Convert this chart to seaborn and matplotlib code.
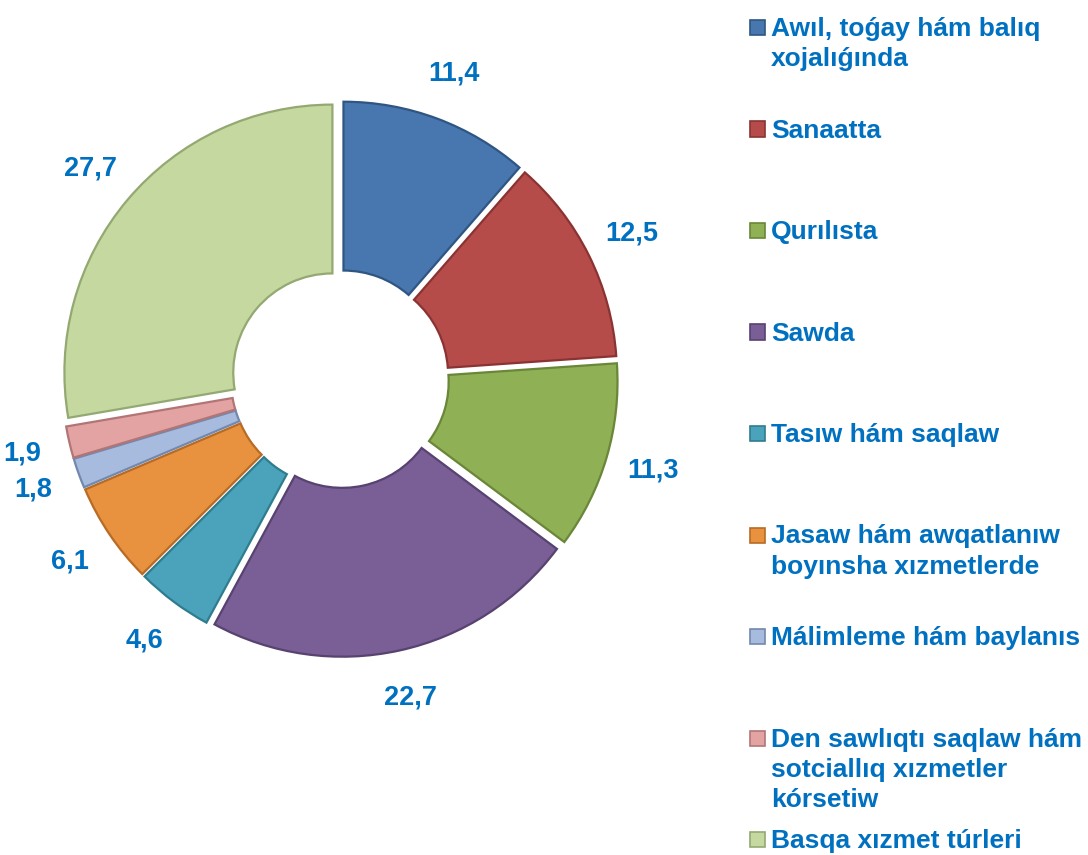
import matplotlib
matplotlib.use("Agg")
import matplotlib.pyplot as plt
import matplotlib.patches as mpatches
import seaborn as sns

# ---- data ----
categories = [
    "Awıl, toǵay hám balıq\nxojalıǵında",
    "Sanaatta",
    "Qurılısta",
    "Sawda",
    "Tasıw hám saqlaw",
    "Jasaw hám awqatlanıw\nboyınsha xızmetlerde",
    "Málimleme hám baylanıs",
    "Den sawlıqtı saqlaw hám\nsotciallıq xızmetler\nkórsetiw",
    "Basqa xızmet túrleri",
]
values = [11.4, 12.5, 11.3, 22.7, 4.6, 6.1, 1.8, 1.9, 27.7]
value_labels = ["11,4", "12,5", "11,3", "22,7", "4,6", "6,1", "1,8", "1,9", "27,7"]

colors = ["#4876AE", "#B54C4A", "#90B055", "#7A5F96", "#4AA3BA",
          "#E8913F", "#A6BBDD", "#E3A3A3", "#C4D8A0"]
edge_colors = ["#2F5683", "#8A3332", "#6A8638", "#574270", "#2F7C8F",
               "#B86B25", "#7288AE", "#B27575", "#94A872"]

sns.set_theme(style="white")
plt.rcParams["font.family"] = ["Liberation Sans", "DejaVu Sans"]
text_color = "#0070C0"

W, H = 1088, 855
fig = plt.figure(figsize=(W / 100, H / 100), dpi=100)
fig.patch.set_facecolor("white")

# pie axes: centre (340, 379) px, unit radius 268 px
cx, cy, R = 340, 379, 268
L = 1.3
half = L * R
ax = fig.add_axes([(cx - half) / W, 1 - (cy + half) / H, 2 * half / W, 2 * half / H])
ax.axis("off")

explode = [0.037] * len(values)
wedges, texts = ax.pie(
    values,
    labels=value_labels,
    colors=colors,
    startangle=90,
    counterclock=False,
    explode=explode,
    labeldistance=1.18,
    radius=1.0,
    wedgeprops=dict(width=0.63, linewidth=1.6),
    textprops=dict(color=text_color, fontsize=19.5, fontweight="bold",
                   ha="center", va="center"),
)
ax.set_xlim(-L, L)
ax.set_ylim(-L, L)
ax.set_aspect("equal")
for w, ec in zip(wedges, edge_colors):
    w.set_edgecolor(ec)
for t in texts:
    t.set_horizontalalignment("center")
    t.set_verticalalignment("center")

# ---- legend (manual, marker aligned with first line) ----
x_marker = 750
x_text = 771
first_base = 36
step = 101.5
line_gap = 30
msize = 15
for i, (lab, col, ec) in enumerate(zip(categories, colors, edge_colors)):
    base = first_base + step * i
    rect = mpatches.Rectangle(
        (x_marker / W, 1 - (base - 1) / H), msize / W, msize / H,
        transform=fig.transFigure, facecolor=col, edgecolor=ec, linewidth=1.2,
    )
    fig.patches.append(rect)
    for j, line in enumerate(lab.split("\n")):
        fig.text(x_text / W, 1 - (base + j * line_gap) / H, line,
                 color=text_color, fontsize=19, fontweight="bold",
                 ha="left", va="baseline")

fig.savefig("out.png", dpi=100, facecolor="white")
